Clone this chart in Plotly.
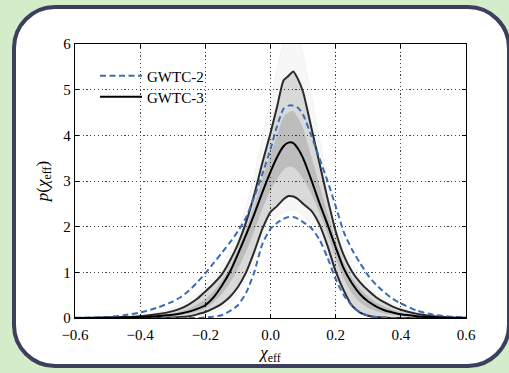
import plotly.graph_objects as go

# ---------------- data ----------------
chi = [-0.6, -0.55, -0.5, -0.45, -0.4, -0.35, -0.3, -0.275, -0.25, -0.225, -0.2, -0.175,
       -0.15, -0.125, -0.1, -0.075, -0.05, -0.025, 0.0, 0.02, 0.04, 0.055, 0.07, 0.085,
       0.1, 0.125, 0.15, 0.175, 0.2, 0.225, 0.25, 0.275, 0.3, 0.325, 0.35, 0.375, 0.4,
       0.45, 0.5, 0.55, 0.6]

gwtc3_median = [0.0, 0.002, 0.005, 0.01, 0.02, 0.04, 0.07, 0.1, 0.14, 0.2, 0.28, 0.45,
                0.7, 1.0, 1.4, 1.82, 2.27, 2.75, 3.2, 3.52, 3.76, 3.84, 3.83, 3.7,
                3.5, 3.03, 2.52, 2.05, 1.55, 1.08, 0.76, 0.52, 0.36, 0.25, 0.17, 0.12, 0.08,
                0.04, 0.015, 0.005, 0.0]
gwtc3_upper = [0.002, 0.005, 0.01, 0.02, 0.04, 0.08, 0.15, 0.21, 0.3, 0.42, 0.58, 0.75,
               0.95, 1.25, 1.62, 2.1, 2.7, 3.4, 4.05, 4.62, 5.2, 5.3, 5.4, 5.22,
               4.95, 4.18, 3.4, 2.62, 1.9, 1.37, 1.02, 0.78, 0.6, 0.45, 0.34, 0.25, 0.18,
               0.09, 0.04, 0.012, 0.004]
gwtc3_lower = [0, 0, 0, 0, 0, 0, 0.01, 0.02, 0.04, 0.08, 0.13, 0.21,
               0.31, 0.46, 0.68, 1.0, 1.45, 1.95, 2.32, 2.45, 2.6, 2.67, 2.66, 2.6,
               2.5, 2.35, 2.05, 1.58, 1.02, 0.6, 0.27, 0.12, 0.05, 0.02, 0.01, 0, 0,
               0, 0, 0, 0]
gwtc3_q75 = [0.001, 0.003, 0.007, 0.014, 0.03, 0.06, 0.1, 0.15, 0.21, 0.3, 0.41, 0.58,
             0.81, 1.11, 1.5, 1.95, 2.46, 3.04, 3.58, 4.0, 4.4, 4.5, 4.53, 4.38,
             4.15, 3.55, 2.92, 2.3, 1.71, 1.21, 0.88, 0.64, 0.47, 0.34, 0.25, 0.18, 0.12,
             0.06, 0.026, 0.008, 0.002]
gwtc3_q25 = [0, 0.001, 0.003, 0.005, 0.011, 0.022, 0.043, 0.064, 0.095, 0.146, 0.21, 0.34,
             0.52, 0.76, 1.08, 1.45, 1.9, 2.39, 2.8, 3.04, 3.24, 3.31, 3.3, 3.2,
             3.05, 2.72, 2.31, 1.84, 1.31, 0.86, 0.54, 0.34, 0.22, 0.15, 0.1, 0.07, 0.044,
             0.022, 0.008, 0.003, 0]
gwtc3_draw_max = [0.003, 0.008, 0.016, 0.03, 0.06, 0.12, 0.22, 0.3, 0.4, 0.54, 0.72, 0.92,
                  1.15, 1.48, 1.9, 2.45, 3.15, 3.95, 4.8, 5.45, 6.05, 6.3, 6.4, 6.2,
                  5.8, 4.9, 3.95, 3.05, 2.25, 1.65, 1.25, 0.95, 0.74, 0.56, 0.43, 0.32, 0.24,
                  0.12, 0.055, 0.02, 0.006]
gwtc3_draw_min = [0, 0, 0, 0, 0, 0, 0.005, 0.01, 0.02, 0.04, 0.07, 0.12,
                  0.2, 0.32, 0.5, 0.8, 1.2, 1.7, 2.05, 2.22, 2.32, 2.36, 2.36, 2.32,
                  2.24, 2.08, 1.8, 1.38, 0.9, 0.52, 0.24, 0.1, 0.04, 0.015, 0.005, 0, 0,
                  0, 0, 0, 0]
gwtc2_upper = [0.005, 0.01, 0.02, 0.06, 0.12, 0.22, 0.36, 0.46, 0.6, 0.78, 0.98, 1.2,
               1.42, 1.65, 1.9, 2.2, 2.65, 3.15, 3.7, 4.2, 4.58, 4.65, 4.65, 4.6,
               4.45, 4.0, 3.5, 3.0, 2.45, 1.88, 1.5, 1.2, 0.93, 0.72, 0.56, 0.42, 0.32,
               0.16, 0.07, 0.03, 0.01]
gwtc2_lower = [0, 0, 0, 0, 0, 0, 0, 0, 0, 0, 0.01, 0.03,
               0.06, 0.15, 0.28, 0.55, 1.0, 1.62, 1.95, 2.08, 2.17, 2.21, 2.21, 2.17,
               2.1, 1.97, 1.72, 1.32, 0.85, 0.5, 0.27, 0.12, 0.05, 0.02, 0.01, 0, 0,
               0, 0, 0, 0]

x_ticks = [-0.6, -0.4, -0.2, 0.0, 0.2, 0.4, 0.6]
y_ticks = [0, 1, 2, 3, 4, 5, 6]
legend_names = ["GWTC-2", "GWTC-3"]

# ---------------- figure ----------------
W, H = 509, 373
L_, R_, T_, B_ = 75, 43, 44, 55
FONT = "Liberation Serif"
BLUE = "#3a6db3"

fig = go.Figure()
SPL = dict(shape="spline", smoothing=0.6)

def band(lo, hi, color):
    fig.add_trace(go.Scatter(x=chi, y=lo, mode="lines", line=dict(width=0, **SPL),
                             showlegend=False, hoverinfo="skip"))
    fig.add_trace(go.Scatter(x=chi, y=hi, mode="lines", line=dict(width=0, **SPL),
                             fill="tonexty", fillcolor=color, showlegend=False, hoverinfo="skip"))

band(gwtc3_draw_min, gwtc3_draw_max, "rgba(0,0,0,0.03)")
band(gwtc3_lower, gwtc3_upper, "rgba(0,0,0,0.12)")
band(gwtc3_q25, gwtc3_q75, "rgba(0,0,0,0.13)")

for ys in (gwtc3_draw_min, gwtc3_draw_max):
    fig.add_trace(go.Scatter(x=chi, y=ys, mode="lines",
                             line=dict(color="rgba(0,0,0,0.07)", width=0.6, **SPL),
                             showlegend=False, hoverinfo="skip"))

fig.add_trace(go.Scatter(x=chi, y=gwtc3_lower, mode="lines",
                         line=dict(color="#2a2a2a", width=2, **SPL), showlegend=False))
fig.add_trace(go.Scatter(x=chi, y=gwtc3_upper, mode="lines",
                         line=dict(color="#2a2a2a", width=2, **SPL), showlegend=False))

dash = dict(color=BLUE, width=2, dash="6px,3.5px", **SPL)
fig.add_trace(go.Scatter(x=chi, y=gwtc2_upper, mode="lines", line=dash,
                         name=legend_names[0], legend="legend"))
fig.add_trace(go.Scatter(x=chi, y=gwtc2_lower, mode="lines", line=dash, showlegend=False))
fig.add_trace(go.Scatter(x=chi, y=gwtc3_median, mode="lines",
                         line=dict(color="#000000", width=2, **SPL),
                         name=legend_names[1], legend="legend2"))

# rounded card behind the plot (pixel geometry -> paper coordinates)
pw, ph = W - L_ - R_, H - T_ - B_
def P(px, py):
    return "%.5f,%.5f" % ((px - L_) / pw, (H - B_ - py) / ph)
x0, y0, x1, y1, r = 14, 7, 509, 366, 41
k = 0.5523 * r
path = ("M " + P(x0 + r, y0) + " L " + P(x1 - r, y0) +
        " C " + P(x1 - r + k, y0) + " " + P(x1, y0 + r - k) + " " + P(x1, y0 + r) +
        " L " + P(x1, y1 - r) +
        " C " + P(x1, y1 - r + k) + " " + P(x1 - r + k, y1) + " " + P(x1 - r, y1) +
        " L " + P(x0 + r, y1) +
        " C " + P(x0 + r - k, y1) + " " + P(x0, y1 - r + k) + " " + P(x0, y1 - r) +
        " L " + P(x0, y0 + r) +
        " C " + P(x0, y0 + r - k) + " " + P(x0 + r - k, y0) + " " + P(x0 + r, y0) + " Z")
fig.add_shape(type="path", path=path, xref="paper", yref="paper", layer="below",
              fillcolor="white", line=dict(color="#3c3f5e", width=4))

axis_common = dict(showline=True, linecolor="black", linewidth=1.3, mirror="ticks",
                   ticks="inside", ticklen=4, tickcolor="black", tickwidth=1,
                   showgrid=True, gridcolor="#444444", gridwidth=1.2, griddash="1.2px,2.6px",
                   zeroline=False, tickfont=dict(family=FONT, size=15, color="black"))

fig.update_xaxes(range=[-0.6, 0.6], tickvals=x_ticks, tickformat=".1f", ticklabelstandoff=3,
                 title=dict(text="<i>χ</i><sub>eff</sub>", font=dict(family=FONT, size=17, color="black"), standoff=3),
                 **axis_common)
fig.update_yaxes(range=[0, 6], tickvals=y_ticks,
                 title=dict(text="<i>p</i>(<i>χ</i><sub>eff</sub>)", font=dict(family=FONT, size=17, color="black"), standoff=10),
                 **axis_common)

leg = dict(xanchor="left", yanchor="middle", bgcolor="rgba(0,0,0,0)",
           font=dict(family=FONT, size=15, color="black"), itemwidth=42, borderwidth=0)
fig.update_layout(
    width=W, height=H,
    margin=dict(l=L_, r=R_, t=T_, b=B_),
    paper_bgcolor="#d4ecc9", plot_bgcolor="white",
    showlegend=True,
    legend=dict(leg, x=(95 - L_) / pw, y=(H - B_ - 76) / ph),
    legend2=dict(leg, x=(95 - L_) / pw, y=(H - B_ - 97) / ph),
)

fig.write_html("out.html")
